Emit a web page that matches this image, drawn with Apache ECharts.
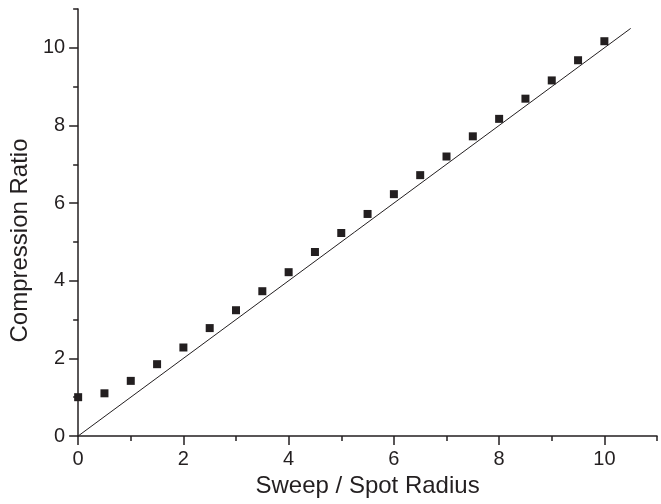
<!DOCTYPE html>
<html>
<head>
<meta charset="utf-8">
<script src="https://cdn.jsdelivr.net/npm/echarts@6/dist/echarts.min.js"></script>
<style>
  html, body { margin: 0; padding: 0; background: #fff; }
  #main { width: 661px; height: 504px; }
</style>
</head>
<body>
<div id="main"></div>
<script>
// sweep / spot radius
var sweep = [0, 0.5, 1, 1.5, 2, 2.5, 3, 3.5, 4, 4.5, 5, 5.5, 6, 6.5, 7, 7.5, 8, 8.5, 9, 9.5, 10];
// measured compression ratio
var ratio = [1.00, 1.10, 1.42, 1.85, 2.28, 2.78, 3.24, 3.73, 4.22, 4.74, 5.23, 5.72, 6.23, 6.72, 7.20, 7.72, 8.17, 8.69, 9.16, 9.68, 10.17];
// reference line y = x
var lineX = [0, 10.5];
var lineY = [0, 10.5];
var majorTicks = [0, 2, 4, 6, 8, 10];
var minorTicks = [1, 3, 5, 7, 9, 11];

var ink = '#231f20';
var font = 'Liberation Sans, Arial, sans-serif';

var points = sweep.map(function (x, i) { return [x, ratio[i]]; });
var line = lineX.map(function (x, i) { return [x, lineY[i]]; });

function axis(extra) {
  var a = {
    type: 'value', min: 0, max: 11, interval: 1,
    splitLine: { show: false },
    axisLine: { show: true, onZero: false, lineStyle: { color: ink, width: 1.5 } },
    axisTick: { show: true, inside: false, customValues: majorTicks, length: 9, lineStyle: { color: ink, width: 1.5 } },
    axisLabel: { show: true, customValues: majorTicks, color: ink, fontSize: 20, fontFamily: font, margin: 13 }
  };
  for (var k in extra) a[k] = extra[k];
  return a;
}

var chart = echarts.init(document.getElementById('main'));
chart.setOption({
  animation: false,
  grid: { left: 78, right: 4, top: 9, bottom: 68, containLabel: false },
  xAxis: [
    axis({
      position: 'bottom',
      name: 'Sweep / Spot Radius', nameLocation: 'middle', nameGap: 31,
      nameTextStyle: { color: ink, fontSize: 24, fontFamily: font }
    }),
    axis({
      position: 'bottom',
      axisLine: { show: false, onZero: false },
      axisTick: { show: true, customValues: minorTicks, length: 5, lineStyle: { color: ink, width: 1.5 } },
      axisLabel: { show: false }
    })
  ],
  yAxis: [
    axis({
      position: 'left',
      name: 'Compression Ratio', nameLocation: 'middle', nameGap: 42,
      nameTextStyle: { color: ink, fontSize: 24, fontFamily: font, padding: [0, 36, 0, 0] }
    }),
    axis({
      position: 'left',
      axisLine: { show: false, onZero: false },
      axisTick: { show: true, customValues: minorTicks, length: 5, lineStyle: { color: ink, width: 1.5 } },
      axisLabel: { show: false }
    })
  ],
  series: [
    {
      type: 'line', data: line, symbol: 'none', silent: true,
      lineStyle: { color: ink, width: 1 }
    },
    {
      type: 'scatter', data: points, symbol: 'rect', symbolSize: 8,
      itemStyle: { color: ink, opacity: 1 }
    }
  ]
});
</script>
</body>
</html>
